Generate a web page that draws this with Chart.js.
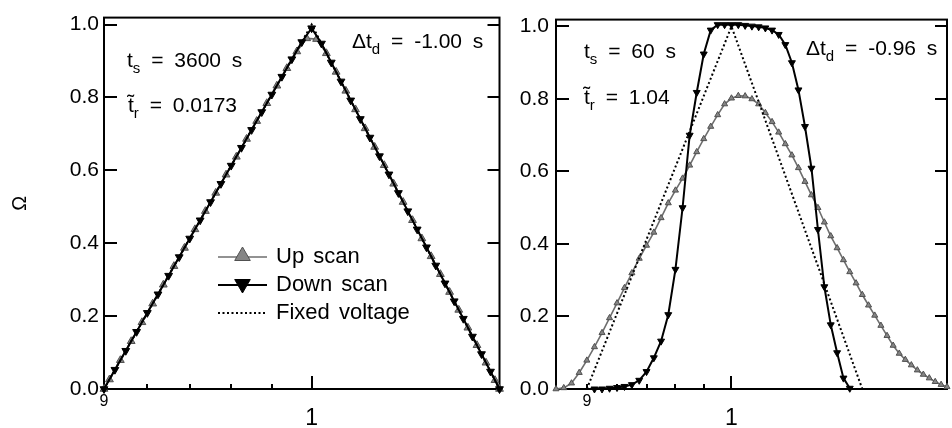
<!DOCTYPE html>
<html><head><meta charset="utf-8">
<script src="https://cdn.jsdelivr.net/npm/chart.js@4"></script>
<style>
html,body{margin:0;padding:0;background:#fff;}
#wrap{position:relative;width:952px;height:428px;overflow:hidden;background:#fff;}
#wrap canvas{position:absolute;top:0;}
</style></head><body>
<div id="wrap">
<canvas id="c1" width="505" height="428" style="left:0px"></canvas>
<canvas id="c2" width="447" height="428" style="left:505px"></canvas>
</div>
<script>
// ---------- data (normalized voltage V, Omega) ----------
const yTickValues = [0, 0.2, 0.4, 0.6, 0.8, 1.0];
const xMinorTickValues = [0.9, 0.92, 0.94, 0.96, 0.98];
const xMajorTickValues = [1];
const legendLabels = ['Up scan', 'Down scan', 'Fixed voltage'];

const fixedV = [0.9, 1.0, 1.1];
const fixedOmega = [0, 1, 0];

// left panel (t_s = 3600 s)
const leftDownV = [0.900,0.905,0.910,0.915,0.920,0.925,0.930,0.935,0.940,0.945,0.950,0.955,0.960,0.965,0.970,0.975,0.980,0.985,0.990,0.995,1.000,
  1.005,1.010,1.015,1.020,1.025,1.030,1.035,1.040,1.045,1.050,1.055,1.060,1.065,1.070,1.075,1.080,1.085,1.090,1.095,1.100];
const leftDownOmega = [0,0.053,0.105,0.157,0.209,0.260,0.311,0.362,0.413,0.463,0.513,0.563,0.613,0.662,0.711,0.760,0.808,0.857,0.905,0.952,0.990,
  0.948,0.896,0.844,0.792,0.741,0.690,0.639,0.589,0.538,0.488,0.438,0.389,0.339,0.290,0.241,0.193,0.144,0.096,0.048,0.000];
const leftUpV = [0.900,0.9025,0.9075,0.9125,0.9175,0.9225,0.9275,0.9325,0.9375,0.9425,0.9475,0.9525,0.9575,0.9625,0.9675,0.9725,0.9775,0.9825,0.9875,0.9925,0.9975,
  1.0025,1.0075,1.0125,1.0175,1.0225,1.0275,1.0325,1.0375,1.0425,1.0475,1.0525,1.0575,1.0625,1.0675,1.0725,1.0775,1.0825,1.0875,1.0925,1.0975,1.100];
const leftUpOmega = [0,0.026,0.079,0.131,0.183,0.234,0.286,0.337,0.387,0.438,0.488,0.538,0.588,0.637,0.686,0.735,0.784,0.832,0.880,0.926,0.962,
  0.960,0.921,0.870,0.818,0.767,0.715,0.664,0.614,0.563,0.513,0.463,0.413,0.364,0.315,0.266,0.217,0.168,0.120,0.072,0.024,0];

// right panel (t_s = 60 s)
const rightUpV = [0.880,0.885,0.890,0.895,0.900,0.905,0.910,0.915,0.920,0.925,0.930,0.935,0.940,0.945,0.950,0.955,0.960,0.965,0.970,0.975,0.980,0.985,0.990,0.995,1.000,
  1.005,1.010,1.015,1.020,1.025,1.030,1.035,1.040,1.045,1.050,1.055,1.060,1.065,1.070,1.075,1.080,1.085,1.090,1.095,1.100,1.105,1.110,1.115,1.120,1.125,1.130,1.135,1.140,1.145,1.150,1.155,1.160,1.165,1.170];
const rightUpOmega = [0.000,0.003,0.016,0.045,0.079,0.116,0.155,0.196,0.237,0.279,0.320,0.360,0.396,0.432,0.472,0.513,0.548,0.581,0.617,0.654,0.690,0.724,0.756,0.786,0.802,
  0.809,0.808,0.800,0.786,0.762,0.737,0.708,0.676,0.645,0.610,0.572,0.535,0.500,0.460,0.422,0.389,0.356,0.323,0.292,0.260,0.231,0.203,0.175,0.147,0.120,0.098,0.081,0.066,0.052,0.040,0.030,0.020,0.012,0.006];
const rightDownV = [0.905,0.910,0.915,0.920,0.925,0.930,0.935,0.940,0.945,0.950,0.955,0.960,0.965,0.970,0.975,0.980,0.985,0.990,0.995,1.000,
  1.005,1.010,1.015,1.020,1.025,1.030,1.035,1.040,1.045,1.050,1.055,1.060,1.065,1.070,1.075,1.080,1.085,1.090];
const rightDownOmega = [0,0,0.002,0.004,0.007,0.012,0.024,0.048,0.086,0.132,0.205,0.330,0.500,0.700,0.818,0.924,0.990,1.005,1.005,1.005,
  1.005,1.003,1.001,0.999,0.996,0.990,0.978,0.950,0.900,0.825,0.724,0.609,0.440,0.282,0.177,0.100,0.030,0.002];

// ---------- helpers ----------
const FONT = "'Liberation Sans', Arial, Helvetica, sans-serif";
const zip = (xs, ys) => xs.map((x, i) => ({ x: x, y: ys[i] }));

function drawRich(ctx, x, y, parts, size, subSize, extra) {
  let cx = x;
  ctx.textBaseline = 'alphabetic';
  ctx.textAlign = 'left';
  ctx.fillStyle = '#000';
  for (const p of parts) {
    const fs = p.sub ? subSize : size;
    ctx.font = fs + 'px ' + FONT;
    const dy = p.sub ? 6 : 0;
    const words = p.t.split(' ');
    words.forEach((w, i) => {
      if (i > 0) cx += ctx.measureText(' ').width + extra;
      if (w) { ctx.fillText(w, cx, y + dy); cx += ctx.measureText(w).width; }
    });
  }
}

const decoPlugin = {
  id: 'deco',
  beforeDatasetsDraw(chart, args, opts) {
    const { ctx, chartArea: a, scales } = chart;
    ctx.save();
    ctx.strokeStyle = '#000';
    ctx.lineWidth = 2;
    ctx.strokeRect(a.left, a.top, a.right - a.left, a.bottom - a.top);
    ctx.beginPath();
    yTickValues.forEach(v => {
      const py = Math.round(scales.y.getPixelForValue(v));
      ctx.moveTo(a.left, py); ctx.lineTo(a.left + 13, py);
      ctx.moveTo(a.right, py); ctx.lineTo(a.right - 12, py);
    });
    xMinorTickValues.forEach(v => {
      const px = Math.round(scales.x.getPixelForValue(v));
      ctx.moveTo(px, a.bottom); ctx.lineTo(px, a.bottom - 5);
    });
    xMajorTickValues.forEach(v => {
      const px = Math.round(scales.x.getPixelForValue(v));
      ctx.moveTo(px, a.bottom); ctx.lineTo(px, a.bottom - 13);
    });
    ctx.stroke();
    ctx.restore();
  },
  afterDraw(chart, args, opts) {
    const ctx = chart.ctx;
    ctx.save();
    (opts.texts || []).forEach(t => drawRich(ctx, t.x, t.y, t.parts, 21, 15, 5));
    if (opts.legend) {
      const L = opts.legend;
      const ds = chart.data.datasets;
      const byLabel = lbl => ds.find(d => d.label === lbl);
      legendLabels.forEach((lbl, i) => {
        const d = byLabel(lbl);
        const ly = L.y + i * L.dy;
        ctx.save();
        ctx.strokeStyle = d.borderColor;
        ctx.lineWidth = d.borderWidth;
        ctx.setLineDash(d.borderDash || []);
        ctx.beginPath();
        ctx.moveTo(L.x0, ly); ctx.lineTo(L.x1, ly);
        ctx.stroke();
        ctx.setLineDash([]);
        if (d.pointRadius > 0) {
          ctx.fillStyle = d.pointBackgroundColor;
          ctx.strokeStyle = d.pointBorderColor;
          ctx.lineWidth = d.pointBorderWidth;
          Chart.helpers.drawPoint(ctx, { pointStyle: 'triangle', radius: 9, rotation: d.pointRotation || 0, borderWidth: d.pointBorderWidth }, (L.x0 + L.x1) / 2, ly - 1);
        }
        ctx.restore();
        drawRich(ctx, L.tx, ly + 6, [{ t: lbl }], 22, 15, 3);
      });
    }
    ctx.restore();
  }
};

function makePanel(id, cfg) {
  return new Chart(document.getElementById(id), {
    type: 'line',
    data: {
      datasets: [
        { label: 'Down scan', data: zip(cfg.downV, cfg.downO), borderColor: '#000', borderWidth: 2,
          pointStyle: 'triangle', pointRotation: 180, pointRadius: cfg.downR, pointBackgroundColor: '#000',
          pointBorderColor: '#000', pointBorderWidth: 1, tension: 0, clip: false, order: 0 },
        { label: 'Fixed voltage', data: zip(fixedV, fixedOmega), borderColor: '#000', borderWidth: 2,
          borderDash: [2, 2.5], pointRadius: 0, tension: 0, clip: false, order: 1 },
        { label: 'Up scan', data: zip(cfg.upV, cfg.upO), borderColor: '#6e6e6e', borderWidth: 1.6,
          pointStyle: 'triangle', pointRotation: 0, pointRadius: cfg.upR, pointBackgroundColor: '#858585',
          pointBorderColor: '#505050', pointBorderWidth: 1, tension: 0, clip: false, order: 2 }
      ]
    },
    options: {
      responsive: false, animation: false, devicePixelRatio: 1,
      layout: { padding: { left: 0, top: 15, right: cfg.padRight, bottom: 0 } },
      events: [],
      plugins: {
        legend: { display: false }, tooltip: { enabled: false },
        deco: { texts: cfg.texts, legend: cfg.legend }
      },
      scales: {
        x: {
          type: 'logarithmic', position: 'bottom', min: cfg.xMin, max: cfg.xMax,
          afterBuildTicks: s => { s.ticks = xMinorTickValues.concat(xMajorTickValues).map(v => ({ value: v })); },
          afterFit: s => { s.height = 39; },
          grid: { display: false, drawTicks: false }, border: { display: false },
          ticks: {
            autoSkip: false, maxRotation: 0, minRotation: 0, padding: 3, color: '#000',
            callback: v => (v === 0.9 ? '9' : (v === 1 ? ['', '1'] : '')),
            font: c => (c.tick && c.tick.value === 1) ? { family: FONT, size: 23, lineHeight: 0.76 } : { family: FONT, size: 16 }
          }
        },
        y: {
          type: 'linear', min: 0, max: 1.019,
          afterBuildTicks: s => { s.ticks = yTickValues.map(v => ({ value: v })); },
          afterFit: s => { s.width = cfg.yWidth; },
          grid: { display: false, drawTicks: false }, border: { display: false },
          ticks: { padding: cfg.yPad, color: '#000', font: { family: FONT, size: 21 }, callback: v => v.toFixed(1) },
          title: cfg.title ? { display: true, text: '\u03A9', color: '#000', font: { family: FONT, size: 20 }, padding: { top: 8, bottom: 0 } } : { display: false }
        }
      }
    },
    plugins: [decoPlugin]
  });
}

makePanel('c1', {
  downV: leftDownV, downO: leftDownOmega, upV: leftUpV, upO: leftUpOmega,
  downR: 4.5, upR: 4.5, xMin: 0.9, xMax: 1.1, yWidth: 104, yPad: 5, padRight: 3, title: true,
  texts: [
    { x: 127, y: 67, parts: [{ t: 't' }, { t: 's', sub: true }, { t: ' = 3600 s' }] },
    { x: 128, y: 112, parts: [{ t: 't\u0303' }, { t: 'r', sub: true }, { t: ' = 0.0173' }] },
    { x: 352, y: 48, parts: [{ t: '\u0394t' }, { t: 'd', sub: true }, { t: ' = -1.00 s' }] }
  ],
  legend: { x0: 218, x1: 267, tx: 276, y: 257, dy: 28 }
});

makePanel('c2', {
  downV: rightDownV, downO: rightDownOmega, upV: rightUpV, upO: rightUpOmega,
  downR: 4, upR: 3.5, xMin: 0.88, xMax: 1.17, yWidth: 51, yPad: 7, padRight: 1, title: false,
  texts: [
    { x: 79, y: 58, parts: [{ t: 't' }, { t: 's', sub: true }, { t: ' = 60 s' }] },
    { x: 79, y: 104, parts: [{ t: 't\u0303' }, { t: 'r', sub: true }, { t: ' = 1.04' }] },
    { x: 301, y: 55, parts: [{ t: '\u0394t' }, { t: 'd', sub: true }, { t: ' = -0.96 s' }] }
  ],
  legend: null
});
</script>
</body></html>
